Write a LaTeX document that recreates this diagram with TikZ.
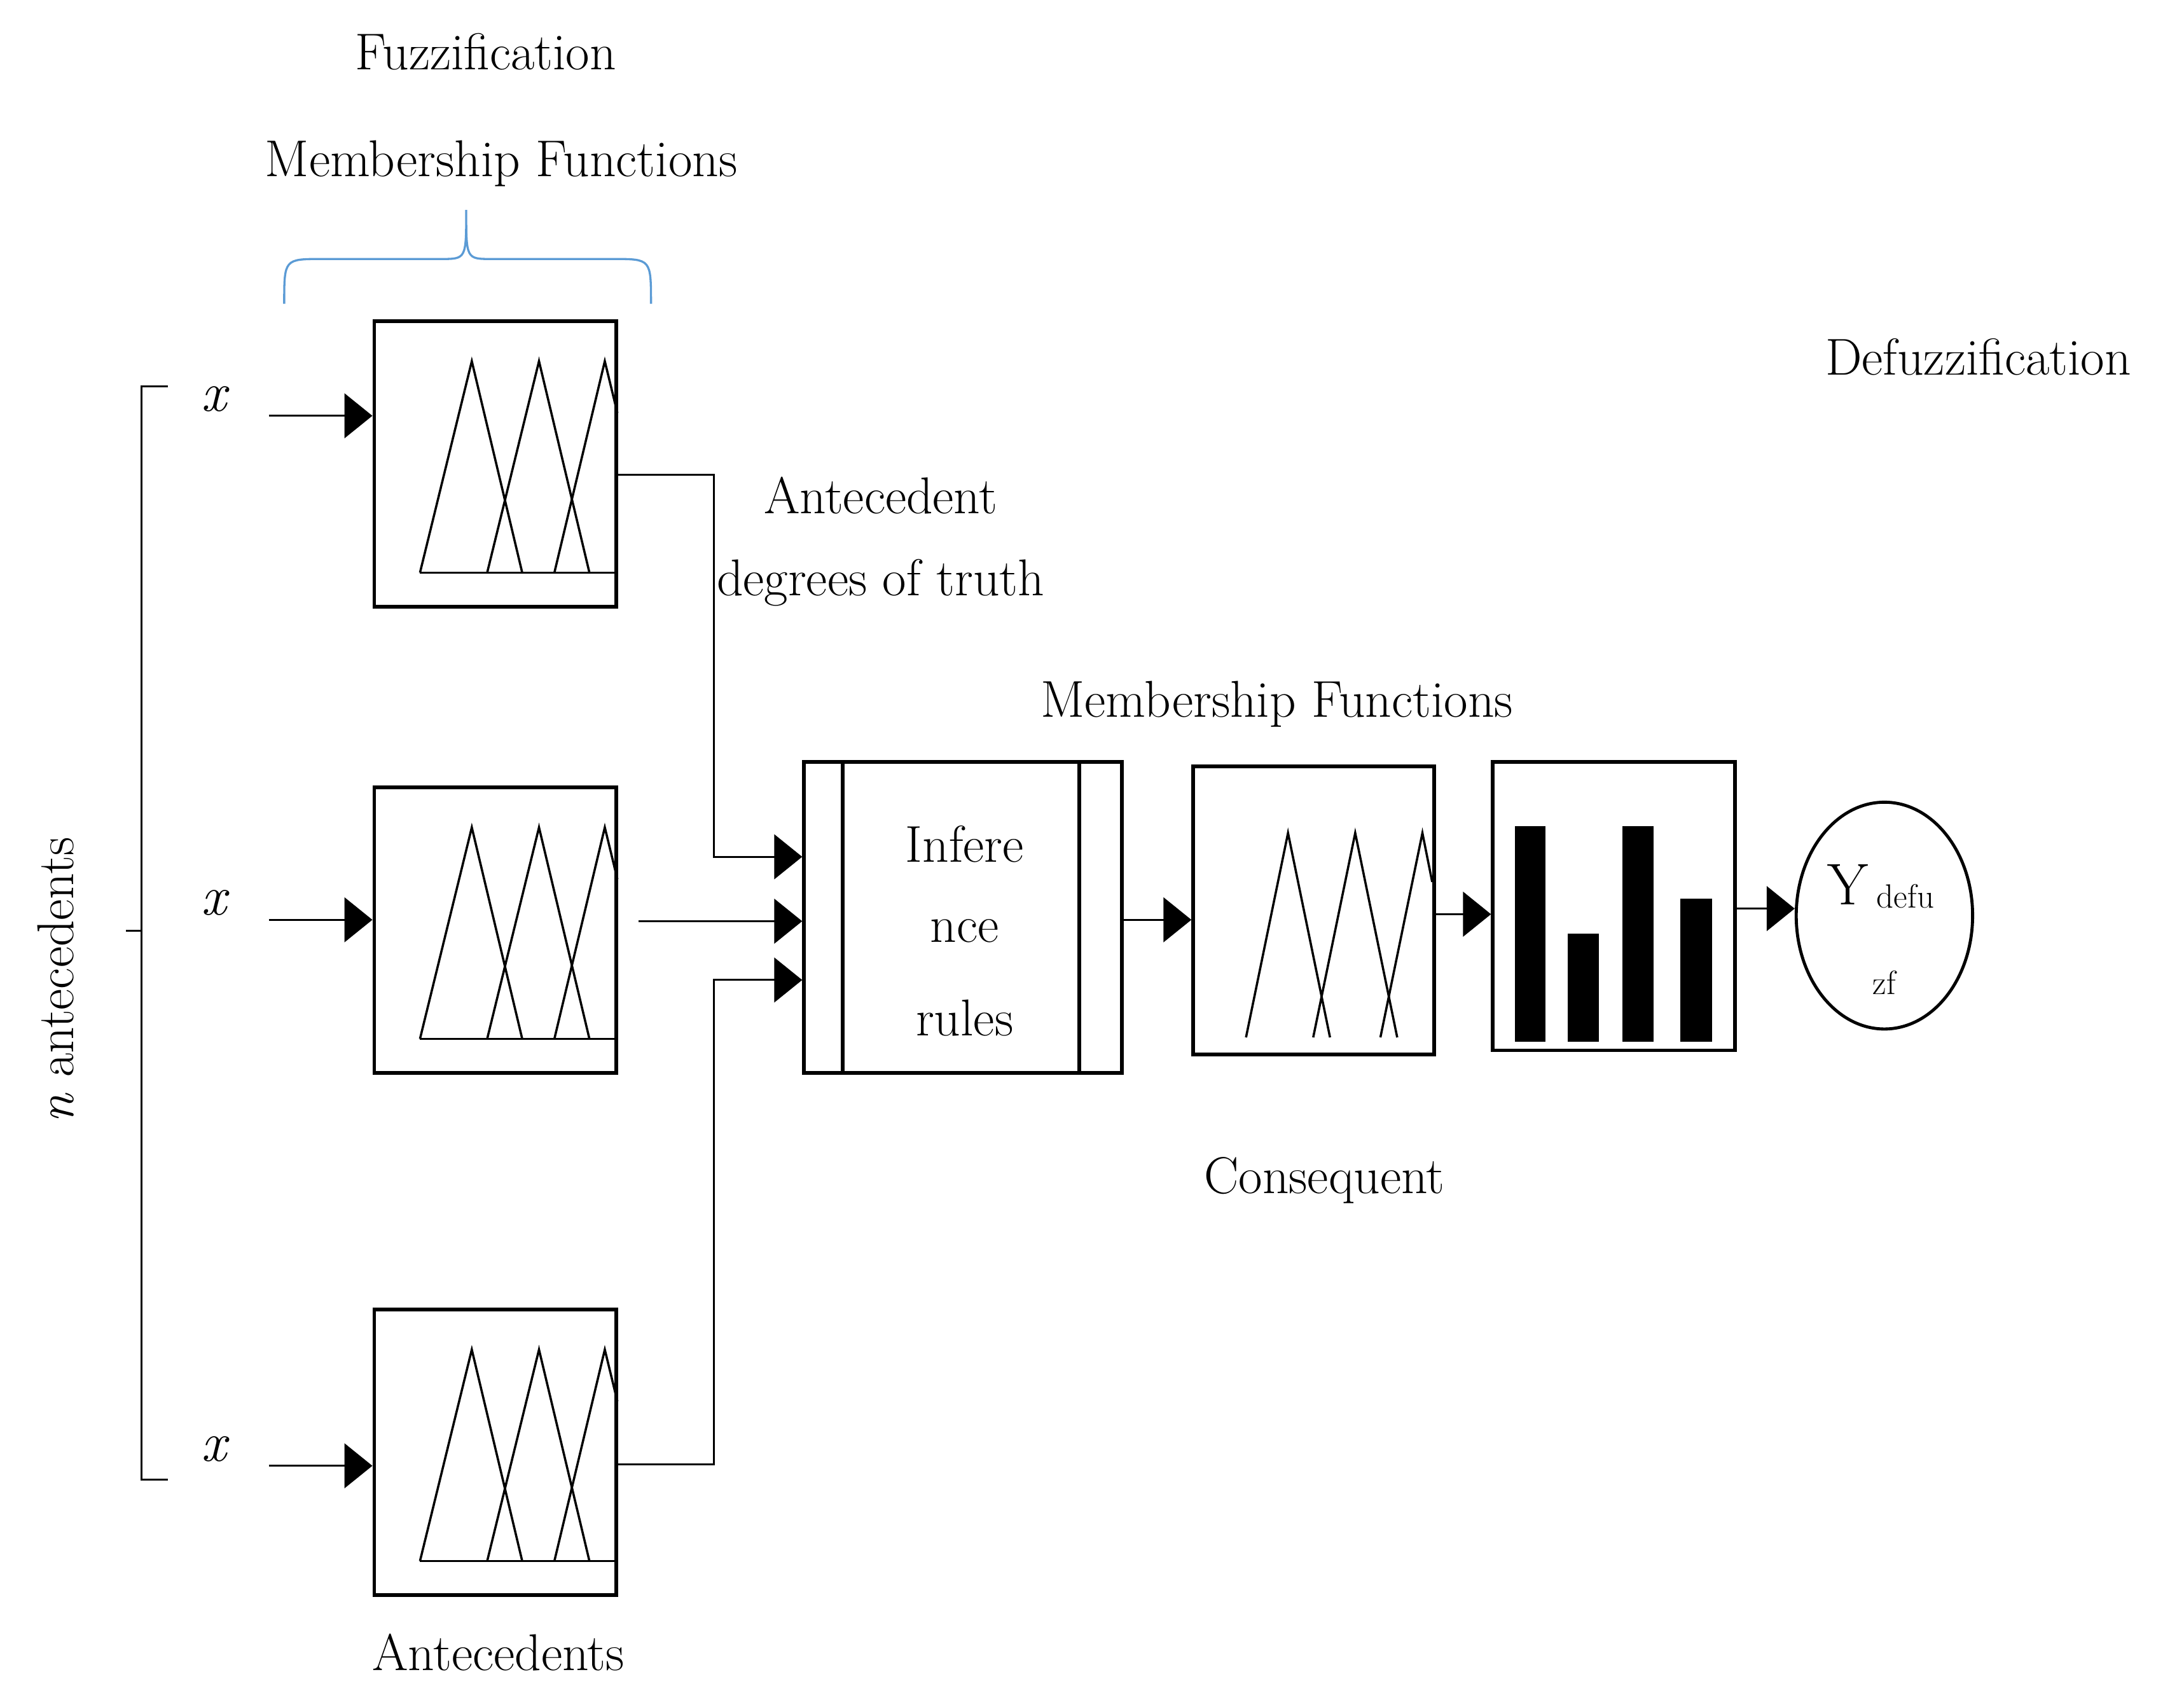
\documentclass[tikz,border=0pt]{standalone}
\usetikzlibrary{arrows.meta,shapes.geometric}
\begin{document}
\begin{tikzpicture}[x=1pt,y=-1pt,
  txt/.style={inner sep=0pt,font=\fontsize{37}{40}\selectfont},
  box/.style={draw,line width=2.6pt,inner sep=0pt},
  tri/.style={line width=1.6pt},
  arr/.style={line width=1.3pt,-{Triangle[length=20pt,width=32pt]}},
  ln/.style={line width=1.3pt}]
\useasboundingbox (0,0) rectangle (1560,1214);
\fill[white] (0,0) rectangle (1560,1214);
\node[txt] (fuz) at (347,37) {Fuzzification};
\node[txt] (mf1) at (358,117) {Membership Functions};
\draw[color={rgb,255:red,91;green,155;blue,213},line width=1.5pt]
 (203,217) .. controls (203,185) .. (230,185) -- (315,185) .. controls (333,185) .. (333,150)
 .. controls (333,185) .. (351,185) -- (438,185) .. controls (465,185) .. (465,217);
% fuzzification boxes
\foreach \n/\y in {a/230,b/563,c/936}{
  \node[box,minimum width=173pt,minimum height=204pt,anchor=north west] (\n) at (266,\y-2) {};
  \begin{scope}[shift={(0,\y-230)}]
   \draw[tri] (300,409) -- (441,409);
   \draw[tri] (300,409) -- (337,258) -- (373,409);
   \draw[tri] (348,409) -- (385,258) -- (421,409);
   \draw[tri] (396,409) -- (432,258) -- (441,295);
  \end{scope}
}
\foreach \n/\y in {a/297,b/657,c/1047}{
  \node[txt,font=\fontsize{40}{44}\selectfont\itshape] (x\n) at (153,\y-12) {x};
  \coordinate (s\n) at (192,\y);
  \draw[arr] (s\n) -- (s\n -| \n.west);
}
% bracket
\draw[ln] (120,276) -- (101,276) -- (101,1057) -- (120,1057);
\draw[ln] (101,665) -- (90,665);
\node[txt,rotate=90] (nant) at (40,700) {\textit{n} antecedents};
\node[txt] (ant) at (356,1180) {Antecedents};
% inference
\node[box,minimum width=227pt,minimum height=222pt,anchor=north west] (inf) at (573,543) {};
\draw[line width=2.6pt] (602,543) -- (602,765) (771,543) -- (771,765);
\node[txt] (i1) at (689,603) {Infere};
\node[txt] (i2) at (689,665) {nce};
\node[txt] (i3) at (689,727) {rules};
\coordinate (k1) at (441,339); \coordinate (k3) at (441,1046);
\draw[arr] (k1) -- (510,339) -- (510,612) -- (573,612);
\draw[arr] (456,658) -- (573,658);
\draw[arr] (k3) -- (510,1046) -- (510,700) -- (573,700);
\node[txt] (adt1) at (629,354) {Antecedent};
\node[txt] (adt2) at (629,416) {degrees of truth};
\node[txt] (mf2) at (912,503) {Membership Functions};
% consequent
\node[box,minimum width=172pt,minimum height=206pt,anchor=north west] (con) at (851,546) {};
\draw[tri] (890,741) -- (920,595) -- (950,741);
\draw[tri] (938,741) -- (968,595) -- (998,741);
\draw[tri] (986,741) -- (1016,595) -- (1023,630);
\draw[arr] (800,657) -- (851,657);
\node[txt] (cq) at (946,843) {Consequent};
% bars
\node[box,minimum width=173pt,minimum height=206pt,anchor=north west] (bar) at (1065,543) {};
\fill (1082,590) rectangle (1104,744);
\fill (1120,667) rectangle (1142,744);
\fill (1159,590) rectangle (1181,744);
\fill (1200,642) rectangle (1223,744);
\draw[arr] (1023,653) -- (1065,653);
\node[ellipse,draw,line width=2.2pt,minimum width=126pt,minimum height=162pt] (out) at (1346,654) {};
\draw[arr] (1238,649) -- (out.west |- 0,649);
\node[txt,font=\fontsize{42}{46}\selectfont] (y) at (1320,632) {Y};
\node[txt,font=\fontsize{24}{28}\selectfont] (d) at (1361,640) {defu};
\node[txt,font=\fontsize{24}{28}\selectfont] (z) at (1346,702) {zf};
\node[txt] (dfz) at (1413,255) {Defuzzification};
\end{tikzpicture}
\end{document}
